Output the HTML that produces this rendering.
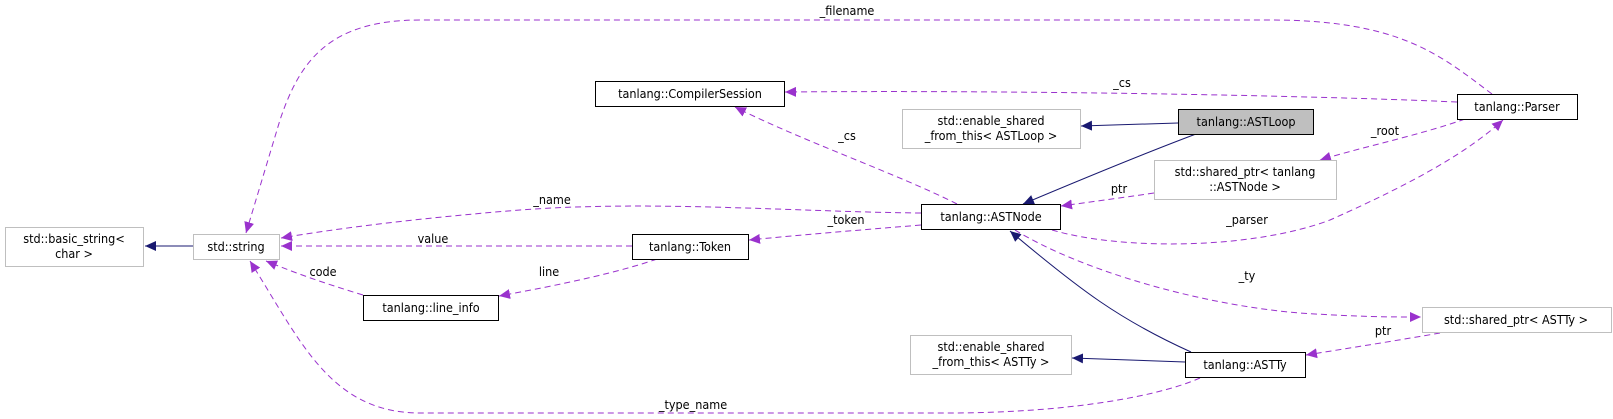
<!DOCTYPE html>
<html><head><meta charset="utf-8"><style>
html,body{margin:0;padding:0;background:#fff;}
svg{display:block;}
text{font-family:"DejaVu Sans Condensed","Liberation Sans",sans-serif;font-size:12.5px;fill:#000;}
</style></head><body>
<svg width="1613" height="419" viewBox="0 0 1613 419" xmlns="http://www.w3.org/2000/svg">
<defs>
<marker id="p" markerUnits="userSpaceOnUse" markerWidth="12" markerHeight="10" refX="11" refY="5" orient="auto"><path d="M0,0 L11,5 L0,10 z" fill="#9a32cd"/></marker>
<marker id="n" markerUnits="userSpaceOnUse" markerWidth="12" markerHeight="10" refX="11" refY="5" orient="auto"><path d="M0,0 L11,5 L0,10 z" fill="#191970"/></marker>
</defs>
<g fill="none" stroke="#9a32cd" stroke-dasharray="6,4" stroke-width="1" marker-end="url(#p)">
<path d="M1492,94 C1440,55 1400,20 1270,20 L420,20 C330,20 300,60 280,120 L246,233"/>
<path d="M1457,102 C1300,95 1000,90 785,92"/>
<path d="M957,204 C900,175 800,140 735,107"/>
<path d="M1465,119 C1420,135 1370,145 1320,160"/>
<path d="M1154,193 C1120,198 1090,202 1061,206"/>
<path d="M1052,230 C1120,250 1250,250 1330,220 C1420,180 1470,150 1503,120"/>
<path d="M921,213 C800,212 650,200 520,210 C420,218 340,228 281,238"/>
<path d="M921,225 C860,230 800,235 749,240"/>
<path d="M632,246 L281,246"/>
<path d="M657,259 C620,272 560,285 499,296"/>
<path d="M363,295 C330,285 300,275 266,261"/>
<path d="M1015,230 C1080,270 1200,305 1300,313 C1360,317 1390,317 1421,317"/>
<path d="M1440,333 C1400,340 1350,348 1306,355"/>
<path d="M1200,378 C1150,400 1050,413 950,413 L420,413 C330,413 300,340 250,261"/>
</g>
<g fill="none" stroke="#191970" stroke-width="1" marker-end="url(#n)">
<path d="M193,246 L145,246"/>
<path d="M1178,123 L1081,126"/>
<path d="M1196,134 C1140,155 1080,180 1023,204"/>
<path d="M1191,352 C1120,320 1080,290 1010,231"/>
<path d="M1185,362 L1072,358"/>
</g>
<g stroke-width="1">
<rect x="5.5" y="227.5" width="138" height="39" fill="#fff" stroke="#bfbfbf"/>
<rect x="193.5" y="234.5" width="86" height="25" fill="#fff" stroke="#bfbfbf"/>
<rect x="595.5" y="81.5" width="189" height="25" fill="#fff" stroke="#000"/>
<rect x="632.5" y="234.5" width="116" height="25" fill="#fff" stroke="#000"/>
<rect x="363.5" y="295.5" width="135" height="25" fill="#fff" stroke="#000"/>
<rect x="1457.5" y="94.5" width="120" height="25" fill="#fff" stroke="#000"/>
<rect x="902.5" y="109.5" width="178" height="39" fill="#fff" stroke="#bfbfbf"/>
<rect x="1178.5" y="109.5" width="135" height="25" fill="#bfbfbf" stroke="#000"/>
<rect x="1154.5" y="160.5" width="182" height="39" fill="#fff" stroke="#bfbfbf"/>
<rect x="921.5" y="204.5" width="139" height="25" fill="#fff" stroke="#000"/>
<rect x="1422.5" y="307.5" width="189" height="25" fill="#fff" stroke="#bfbfbf"/>
<rect x="910.5" y="335.5" width="161" height="39" fill="#fff" stroke="#bfbfbf"/>
<rect x="1185.5" y="352.5" width="120" height="25" fill="#fff" stroke="#000"/>
</g>
<g text-anchor="middle">
<text x="74" y="243">std::basic_string&lt;</text><text x="74" y="258">char &gt;</text>
<text x="236" y="251">std::string</text>
<text x="690" y="98">tanlang::CompilerSession</text>
<text x="690" y="251">tanlang::Token</text>
<text x="431" y="312">tanlang::line_info</text>
<text x="1517" y="111">tanlang::Parser</text>
<text x="991" y="125">std::enable_shared</text><text x="991" y="140">_from_this&lt; ASTLoop &gt;</text>
<text x="1246" y="126">tanlang::ASTLoop</text>
<text x="1245" y="176">std::shared_ptr&lt; tanlang</text><text x="1245" y="191">::ASTNode &gt;</text>
<text x="991" y="221">tanlang::ASTNode</text>
<text x="1516" y="324">std::shared_ptr&lt; ASTTy &gt;</text>
<text x="991" y="351">std::enable_shared</text><text x="991" y="366">_from_this&lt; ASTTy &gt;</text>
<text x="1245" y="369">tanlang::ASTTy</text>
<text x="847" y="15">_filename</text>
<text x="1122" y="87">_cs</text>
<text x="847" y="140">_cs</text>
<text x="1385" y="135">_root</text>
<text x="1119" y="193">ptr</text>
<text x="1247" y="224">_parser</text>
<text x="846" y="224">_token</text>
<text x="552" y="204">_name</text>
<text x="433" y="243">value</text>
<text x="323" y="276">code</text>
<text x="549" y="276">line</text>
<text x="1247" y="280">_ty</text>
<text x="1383" y="335">ptr</text>
<text x="693" y="409">_type_name</text>
</g>
</svg>
</body></html>
